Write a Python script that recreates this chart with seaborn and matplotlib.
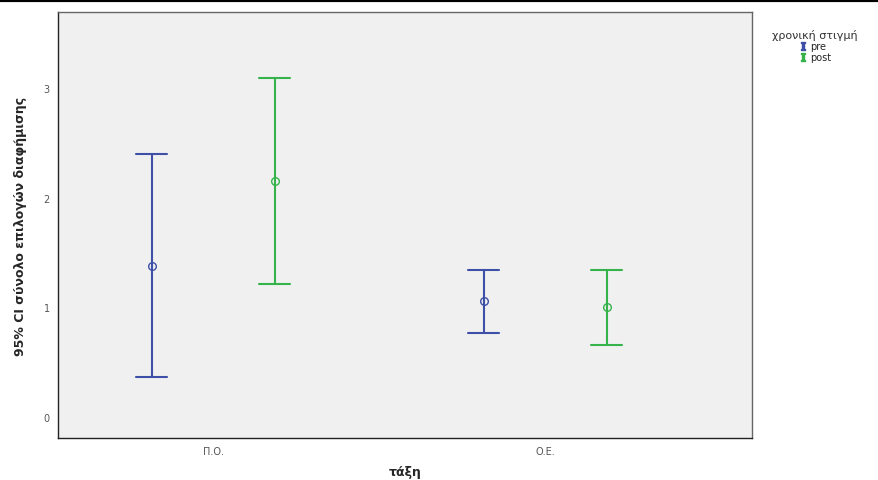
import numpy as np
import pandas as pd
import matplotlib
matplotlib.use("Agg")
import matplotlib.pyplot as plt
from matplotlib.lines import Line2D
import seaborn as sns

# values (95% CI per group)
classes = ["Π.Ο.", "Π.Ο.", "Ο.Ε.", "Ο.Ε."]
timepoints = ["pre", "post", "pre", "post"]
ci_mean = [1.38, 2.15, 1.06, 1.00]
ci_lower = [0.37, 1.21, 0.77, 0.66]
ci_upper = [2.40, 3.09, 1.34, 1.34]

class_order = ["Π.Ο.", "Ο.Ε."]
time_order = ["pre", "post"]
colors = {"pre": "#3d4fa6", "post": "#35b34a"}

# long table: lower / mean / upper per group -> median = mean, min/max = CI
rows = []
for c, t, m, lo, hi in zip(classes, timepoints, ci_mean, ci_lower, ci_upper):
    for v in (lo, m, hi):
        rows.append({"τάξη": c, "χρονική στιγμή": t, "value": v})
df = pd.DataFrame(rows)

sns.set_style("white")
plt.rcParams["font.family"] = ["DejaVu Sans"]
plt.rcParams["mathtext.fontset"] = "dejavuserif"

fig = plt.figure(figsize=(8.79, 4.81), dpi=100)
ax = fig.add_axes([0.066, 0.0873, 0.7895, 0.8857])
ax.set_facecolor("#f0f0f0")

sns.pointplot(
    data=df, x="τάξη", y="value", hue="χρονική στιγμή",
    order=class_order, hue_order=time_order, palette=colors,
    estimator="median", errorbar=lambda v: (v.min(), v.max()),
    dodge=0.37, linestyle="none", markers="o", capsize=0.093,
    err_kws={"linewidth": 1.5}, markerfacecolor="none",
    markersize=5.5, markeredgewidth=1.0, legend=False, ax=ax,
)

ax.set_xlim(-0.467, 1.623)
ax.set_ylim(-0.19, 3.69)
ax.set_yticks([0, 1, 2, 3])
ax.tick_params(axis="both", direction="out", length=4, width=1,
               color="#444444", labelsize=7, labelcolor="#555555", pad=2)
for side in ["left", "bottom"]:
    ax.spines[side].set_color("#222222")
for side in ["top", "right"]:
    ax.spines[side].set_color("#666666")
for s in ax.spines.values():
    s.set_linewidth(1.0)

ax.set_xlabel("τάξη", fontsize=9, fontweight="bold", labelpad=6)
ax.set_ylabel("95% CI σύνολο επιλογών διαφήμισης", fontsize=9,
              fontweight="bold", labelpad=12)

handles = [Line2D([], [], linestyle="none", marker="$\\mathbf{I}$",
                  markersize=6, color=colors[t]) for t in time_order]
leg = fig.legend(handles, time_order, title="χρονική στιγμή",
                 loc="upper left", bbox_to_anchor=(0.868, 0.955),
                 frameon=False, fontsize=7, title_fontsize=8,
                 handlelength=1.0, handletextpad=0.3, labelspacing=0.1)
leg.get_title().set_color("#333333")

# black rule along the top of the image
fig.add_artist(Line2D([0, 1], [0.997, 0.997], color="black", lw=3,
                      transform=fig.transFigure))

fig.savefig("out.png", dpi=100)
